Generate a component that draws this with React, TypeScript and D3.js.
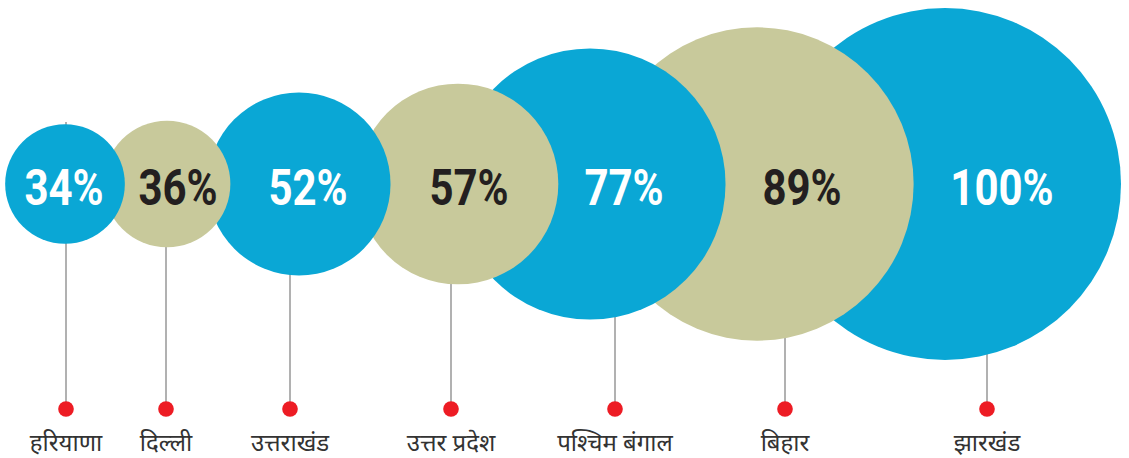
import React from "react";
import * as d3 from "d3";

// Data
const states = ["हरियाणा", "दिल्ली", "उत्तराखंड", "उत्तर प्रदेश", "पश्चिम बंगाल", "बिहार", "झारखंड"];
const values = [34, 36, 52, 57, 77, 89, 100];
const valueLabels = ["34%", "36%", "52%", "57%", "77%", "89%", "100%"];

// Layout (infographic placement along the row, in chart units)
const circleCentres = [65, 167, 299, 458, 590, 757, 945];
const valueLabelCentres = [64, 178, 308, 469, 624, 802, 1002];
const pinCentres = [66, 166, 290, 451, 615, 785, 987];

const W = 1129;
const H = 458;
const BLUE = "#0aa7d5";
const BEIGE = "#c8c99b";
const DARK = "#231f20";
const RED = "#ed1c24";
const GREY = "#9e9e9e";

export default function App() {
  const x = d3.scaleLinear().domain([0, W]).range([0, W]);
  const r = d3.scaleLinear().domain([0, 100]).range([0, 176]);
  const cy = 184;
  const pinTop = 122;
  const dotY = 409;
  const labelY = 451;

  const idx = d3.range(values.length);
  const drawOrder = [...idx].reverse();

  return (
    <svg
      width={W}
      height={H}
      viewBox={`0 0 ${W} ${H}`}
      style={{ position: "absolute", left: 0, top: 0, display: "block", background: "#fff" }}
    >
      <g className="pins">
        {idx.map((i) => (
          <g key={`pin-${i}`}>
            <line
              x1={x(pinCentres[i])}
              x2={x(pinCentres[i])}
              y1={pinTop}
              y2={dotY}
              stroke={GREY}
              strokeWidth={1.6}
            />
            <circle cx={x(pinCentres[i])} cy={dotY} r={7.8} fill={RED} />
            <text
              x={x(pinCentres[i])}
              y={labelY}
              textAnchor="middle"
              fontFamily="'Noto Sans', 'Lato', sans-serif"
              fontSize={24}
              fill="#333"
            >
              {states[i]}
            </text>
          </g>
        ))}
      </g>
      <g className="bubbles">
        {drawOrder.map((i) => (
          <circle
            key={`c-${i}`}
            cx={x(circleCentres[i])}
            cy={cy}
            r={r(values[i])}
            fill={i % 2 === 0 ? BLUE : BEIGE}
          />
        ))}
      </g>
      <g className="values">
        {idx.map((i) => (
          <text
            key={`v-${i}`}
            transform={`translate(${x(valueLabelCentres[i])},205) scale(0.84,1)`}
            textAnchor="middle"
            fontFamily="Roboto, 'DejaVu Sans Condensed', sans-serif"
            fontWeight="bold"
            fontSize={50}
            fill={i % 2 === 0 ? "#ffffff" : DARK}
          >
            {valueLabels[i]}
          </text>
        ))}
      </g>
    </svg>
  );
}
